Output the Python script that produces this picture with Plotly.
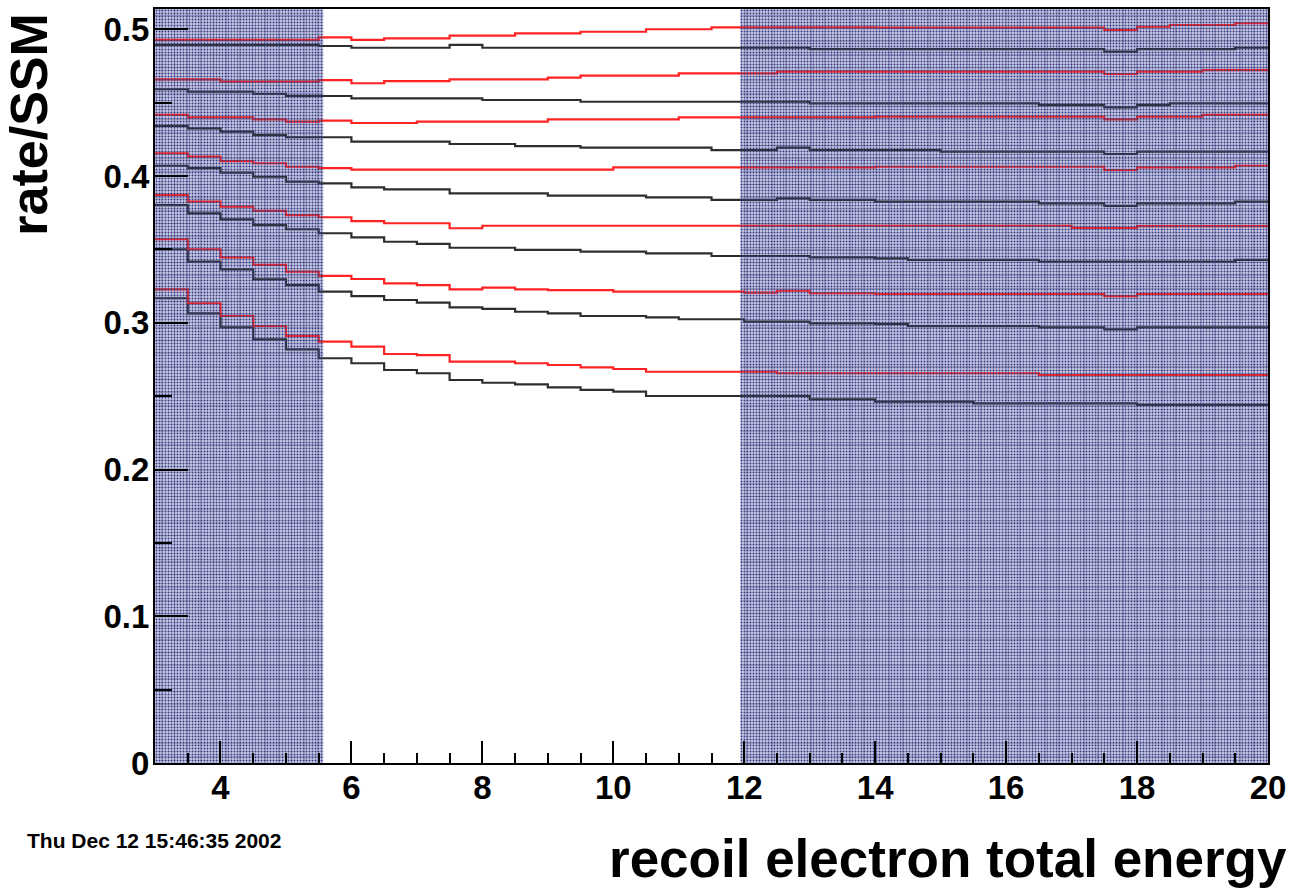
import plotly.graph_objects as go

# ---------------- data ----------------
energy_edges = [3.0, 3.5, 4.0, 4.5, 5.0, 5.5, 6.0, 6.5, 7.0, 7.5, 8.0, 8.5, 9.0, 9.5,
                10.0, 10.5, 11.0, 11.5, 12.0, 12.5, 13.0, 13.5, 14.0, 14.5, 15.0, 15.5,
                16.0, 16.5, 17.0, 17.5, 18.0, 18.5, 19.0, 19.5, 20.0]

red_1 = [0.4927]*5 + [0.4945, 0.4927, 0.4938, 0.4938, 0.4956, 0.4956, 0.4972, 0.4972,
        0.4983, 0.4983, 0.5000, 0.5000] + [0.5013]*5 + [0.5011]*7 + [0.4995, 0.5017, 0.5029, 0.5029, 0.5041]
black_1 = [0.4893]*5 + [0.4886] + [0.4874]*3 + [0.4893] + [0.4874]*10 + [0.4864]*9 + [0.4847] + [0.4864]*3 + [0.4874]

red_2 = [0.4659]*2 + [0.4643]*3 + [0.4654, 0.4632] + [0.4647]*2 + [0.4659]*3 + [0.4670] + [0.4684]*3 + \
        [0.4700]*3 + [0.4711]*10 + [0.4695] + [0.4711]*2 + [0.4722]*2
black_2 = [0.4591] + [0.4575]*2 + [0.4559] + [0.4545]*2 + [0.4529]*4 + [0.4518]*3 + [0.4506]*7 + \
          [0.4495]*7 + [0.4484]*2 + [0.4468, 0.4484] + [0.4495]*3

red_3 = [0.4416] + [0.4400]*2 + [0.4386, 0.4370, 0.4377] + [0.4361]*2 + [0.4370]*4 + [0.4386]*4 + \
        [0.4400]*6 + [0.4405]*7 + [0.4386] + [0.4405]*2 + [0.4416]*2
black_3 = [0.4341, 0.4325, 0.4302, 0.4279] + [0.4264]*2 + [0.4234]*3 + [0.4218]*2 + [0.4204]*2 + \
          [0.4193]*4 + [0.4177]*2 + [0.4193] + [0.4177]*4 + [0.4166]*5 + [0.4150] + [0.4166]*4

red_4 = [0.4155, 0.4132, 0.4102, 0.4087, 0.4063, 0.4053] + [0.4043]*8 + [0.4059]*8 + [0.4063]*7 + \
        [0.4041] + [0.4059]*3 + [0.4070]
black_4 = [0.4070, 0.4053, 0.4023, 0.3995, 0.3961, 0.3950, 0.3923] + [0.3909]*2 + [0.3882]*3 + \
          [0.3866]*3 + [0.3855]*2 + [0.3837]*2 + [0.3848] + [0.3837]*2 + [0.3825]*5 + [0.3814]*2 + \
          [0.3796] + [0.3814]*3 + [0.3825]

red_5 = [0.3871, 0.3825, 0.3791, 0.3762, 0.3734, 0.3719, 0.3693] + [0.3678]*2 + [0.3644] + \
        [0.3661]*18 + [0.3646]*2 + [0.3659]*4
black_5 = [0.3802, 0.3746, 0.3705, 0.3666, 0.3637, 0.3610, 0.3582, 0.3552, 0.3537] + [0.3511]*2 + \
          [0.3496]*2 + [0.3484]*2 + [0.3473]*2 + [0.3455]*3 + [0.3446]*2 + [0.3439] + [0.3428]*4 + \
          [0.3416]*6 + [0.3428]

red_6 = [0.3569, 0.3501, 0.3446, 0.3394, 0.3348, 0.3319, 0.3298, 0.3269, 0.3257, 0.3228, 0.3239,
         0.3228] + [0.3223]*2 + [0.3212]*4 + [0.3205, 0.3218] + [0.3201]*2 + [0.3196]*7 + [0.3182] + [0.3196]*4
black_6 = [0.3501, 0.3416, 0.3364, 0.3296, 0.3257, 0.3212, 0.3182, 0.3155, 0.3137, 0.3105, 0.3095,
           0.3075, 0.3064] + [0.3046]*2 + [0.3037] + [0.3024]*2 + [0.3007]*2 + [0.2996]*2 + [0.2992] + \
          [0.2978]*4 + [0.2969]*2 + [0.2955] + [0.2969]*4

red_7 = [0.3228, 0.3133, 0.3046, 0.2978, 0.2910, 0.2871, 0.2837, 0.2787, 0.2780, 0.2735, 0.2735,
         0.2724, 0.2712, 0.2696, 0.2685] + [0.2666]*4 + [0.2656]*8 + [0.2644]*7
black_7 = [0.3167, 0.3064, 0.2969, 0.2887, 0.2819, 0.2758, 0.2724, 0.2678, 0.2656, 0.2610, 0.2591,
           0.2580, 0.2560, 0.2542, 0.2530] + [0.2501]*5 + [0.2478]*2 + [0.2462]*3 + [0.2451]*5 + [0.2440]*4

red_series = [red_1, red_2, red_3, red_4, red_5, red_6, red_7]
black_series = [black_1, black_2, black_3, black_4, black_5, black_6, black_7]

shaded_spans = [[3.0, 5.57], [11.94, 20.0]]
y_max = 0.5138

x_tick_vals = [4, 6, 8, 10, 12, 14, 16, 18, 20]
x_tick_text = ["4", "6", "8", "10", "12", "14", "16", "18", "20"]
y_tick_vals = [0, 0.1, 0.2, 0.3, 0.4, 0.5]
y_tick_text = ["0", "0.1", "0.2", "0.3", "0.4", "0.5"]

x_title = "recoil electron total energy"
y_title = "rate/SSM"
date_text = "Thu Dec 12 15:46:35 2002"

# ---------------- figure ----------------
FONT = "Liberation Sans, Arial, sans-serif"
fig = go.Figure()


def span_box(x0, x1):
    return [x0, x1, x1, x0, x0], [0, 0, y_max, y_max, 0]


# shaded base layer (below lines)
for x0, x1 in shaded_spans:
    bx, by = span_box(x0, x1)
    fig.add_trace(go.Scatter(x=bx, y=by, mode="lines", line=dict(width=0), fill="toself",
                             fillcolor="#c6c8e4", hoverinfo="skip"))

# step histograms
for vals in black_series:
    fig.add_trace(go.Scatter(
        x=energy_edges, y=vals + [vals[-1]], mode="lines",
        line=dict(color="#2e2e2e", width=2.2, shape="hv"), hoverinfo="skip"))
for vals in red_series:
    fig.add_trace(go.Scatter(
        x=energy_edges, y=vals + [vals[-1]], mode="lines",
        line=dict(color="#ff2222", width=2.2, shape="hv"), hoverinfo="skip"))

# textured overlay (above lines): speckle dots + faint grid
for x0, x1 in shaded_spans:
    bx, by = span_box(x0, x1)
    for shape, size, sol, col in [(".", 3, 0.32, "#34377c"),
                                  ("-", 13, 0.10, "rgba(60,62,120,0.30)"),
                                  ("|", 13, 0.10, "rgba(60,62,120,0.30)")]:
        fig.add_trace(go.Scatter(
            x=bx, y=by, mode="lines", line=dict(width=0), fill="toself",
            fillcolor="rgba(0,0,0,0)",
            fillpattern=dict(shape=shape, fgcolor=col, bgcolor="rgba(0,0,0,0)",
                             size=size, solidity=sol, fillmode="replace"),
            hoverinfo="skip"))

axis_common = dict(showline=True, linecolor="black", linewidth=2, mirror=True,
                   ticks="inside", tickcolor="black", tickwidth=2,
                   showgrid=False, zeroline=False,
                   tickfont=dict(family=FONT, size=33, color="black", weight="bold"))

fig.update_xaxes(range=[3, 20], tickmode="array", tickvals=x_tick_vals, ticktext=x_tick_text,
                 ticklen=22, ticklabelstandoff=-6,
                 minor=dict(ticks="inside", dtick=0.5, tick0=3, ticklen=10,
                            tickwidth=2, tickcolor="black"),
                 **axis_common)
fig.update_yaxes(range=[0, y_max], tickmode="array", tickvals=y_tick_vals, ticktext=y_tick_text,
                 ticklen=33, ticklabelstandoff=-3,
                 minor=dict(ticks="inside", dtick=0.05, tick0=0, ticklen=17,
                            tickwidth=2, tickcolor="black"),
                 **axis_common)

fig.update_layout(
    width=1291, height=888,
    margin=dict(l=155, r=23, t=9, b=125, autoexpand=False),
    paper_bgcolor="white", plot_bgcolor="white",
    showlegend=False,
    annotations=[
        dict(text=y_title, xref="paper", yref="paper", x=-0.1135, y=0.998,
             xanchor="center", yanchor="top", textangle=-90, showarrow=False,
             font=dict(family=FONT, size=52, color="black", weight="bold")),
        dict(text=x_title, xref="paper", yref="paper", x=1.019, y=-0.126,
             xanchor="right", yanchor="middle", showarrow=False,
             font=dict(family=FONT, size=53, color="black", weight="bold")),
        dict(text=date_text, xref="paper", yref="paper", x=-0.117, y=-0.103,
             xanchor="left", yanchor="middle", showarrow=False,
             font=dict(family=FONT, size=21, color="black", weight="bold")),
    ],
)

fig.write_html("out.html", config={"displayModeBar": False},
               post_script="document.body.style.margin='0';document.body.style.overflow='hidden';")
